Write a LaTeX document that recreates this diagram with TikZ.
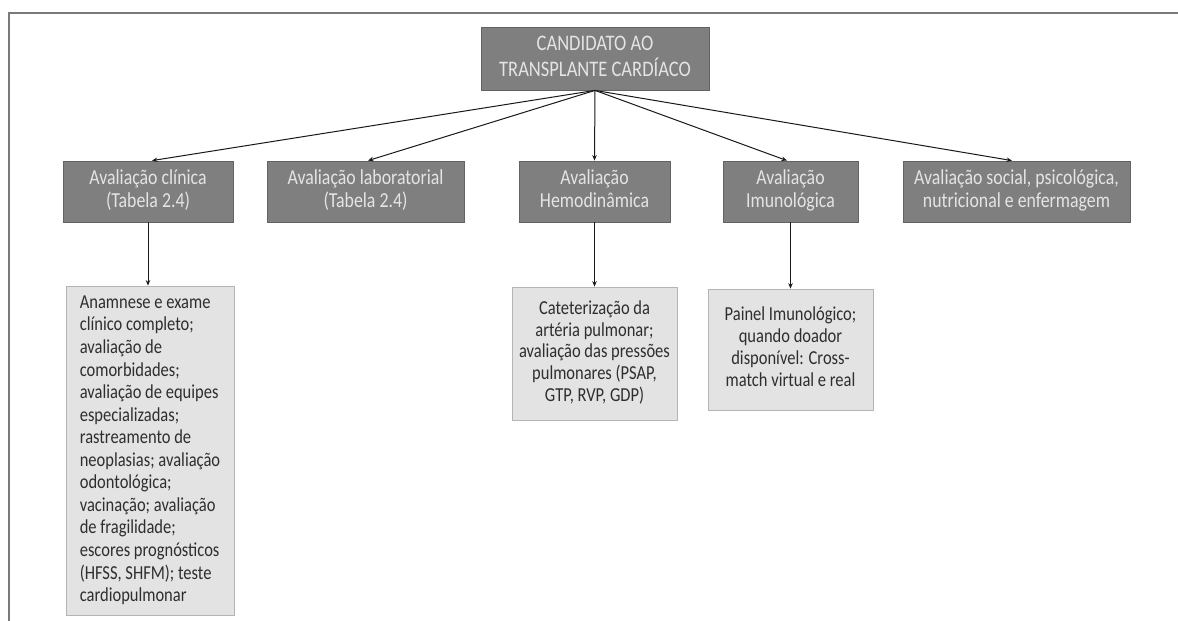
\documentclass[tikz,border=0pt]{standalone}
\usepackage{fontspec}
\setmainfont{Carlito}
\usepackage{graphicx}
\usetikzlibrary{arrows.meta}
\definecolor{boxdark}{HTML}{7F7F7F}
\definecolor{boxedge}{HTML}{636363}
\definecolor{boxlight}{HTML}{E3E3E3}
\definecolor{lightedge}{HTML}{B4B4B4}
\definecolor{txtlight}{HTML}{E4E4E4}
\definecolor{txtdark}{HTML}{2E2E2E}
\definecolor{framecol}{HTML}{7A7A7A}
\newcommand{\ctxt}[3]{\fontsize{#1}{#2}\selectfont\scalebox{1}[1.2]{\begin{tabular}{@{}c@{}}#3\end{tabular}}}
\newcommand{\ltxt}[3]{\fontsize{#1}{#2}\selectfont\scalebox{1}[1.2]{\begin{tabular}{@{}l@{}}#3\end{tabular}}}
\tikzset{
  darkbox/.style={draw=boxedge, line width=0.8pt, fill=boxdark, text=txtlight, inner sep=0pt, minimum height=61pt},
  lightbox/.style={draw=lightedge, line width=0.8pt, fill=boxlight, text=txtdark, inner sep=0pt},
  conn/.style={draw=black!90, line width=1pt, -{Stealth[length=5.5pt,width=4.5pt]}},
}
\begin{document}
\begin{tikzpicture}[x=1pt,y=-1pt]
\useasboundingbox (0,0) rectangle (1178,621);
\fill[white] (0,0) rectangle (1178,621);
\draw[framecol, line width=1.6pt] (1178,13) -- (9,13) -- (9,621);

\node[darkbox, minimum width=228pt, minimum height=63pt] (top) at (595,58.5)
  {\ctxt{18.5}{20.6}{CANDIDATO AO\\TRANSPLANTE CARDÍACO}};

\node[darkbox, minimum width=170pt] (c1) at (148,191.5)
  {\ctxt{17.8}{19.4}{Avaliação clínica\\(Tabela 2.4)}};
\node[darkbox, minimum width=197pt] (c2) at (365.5,191.5)
  {\ctxt{17.8}{19.4}{Avaliação laboratorial\\(Tabela 2.4)}};
\node[darkbox, minimum width=151pt] (c3) at (594.5,191.5)
  {\ctxt{17.8}{19.4}{Avaliação\\Hemodinâmica}};
\node[darkbox, minimum width=135pt] (c4) at (790.5,191.5)
  {\ctxt{17.8}{19.4}{Avaliação\\Imunológica}};
\node[darkbox, minimum width=227pt] (c5) at (1016.5,191.5)
  {\ctxt{17.8}{19.4}{Avaliação social, psicológica,\\nutricional e enfermagem}};

\node[lightbox, minimum width=168pt, minimum height=329pt] (d1) at (150,450.5)
  {\ltxt{16.5}{18.8}{Anamnese e exame\\clínico completo;\\avaliação de\\comorbidades;\\avaliação de equipes\\especializadas;\\rastreamento de\\neoplasias; avaliação\\odontológica;\\vacinação; avaliação\\de fragilidade;\\escores prognósticos\\(HFSS, SHFM); teste\\cardiopulmonar}};
\node[lightbox, minimum width=165pt, minimum height=133pt] (d3) at (594.5,353.5)
  {\ctxt{16.5}{18.2}{Cateterização da\\artéria pulmonar;\\avaliação das pressões\\pulmonares (PSAP,\\GTP, RVP, GDP)}};
\node[lightbox, minimum width=165pt, minimum height=121pt] (d4) at (790.5,349.5)
  {\ctxt{16.5}{18.3}{Painel Imunológico;\\quando doador\\disponível: Cross-\\match virtual e real}};

\draw[conn] (top.south) -- ([xshift=4pt]c1.north);
\draw[conn] (top.south) -- ([xshift=2.5pt]c2.north);
\draw[conn] (top.south) -- (c3.north);
\draw[conn] (top.south) -- ([xshift=-3.5pt]c4.north);
\draw[conn] (top.south) -- ([xshift=-4.5pt]c5.north);

\draw[conn] (c1.south) -- (c1.south |- d1.north);
\draw[conn] (c3.south) -- (d3.north);
\draw[conn] (c4.south) -- (d4.north);
\end{tikzpicture}
\end{document}
